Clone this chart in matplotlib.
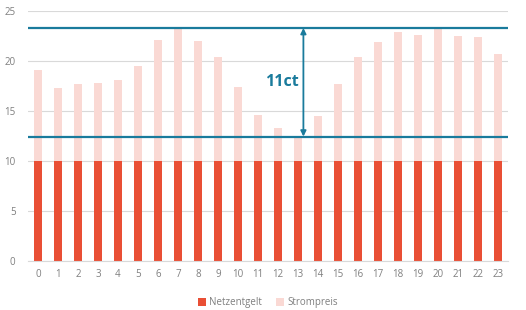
import numpy as np
import matplotlib.pyplot as plt

plt.rcParams['font.family'] = ['Open Sans', 'DejaVu Sans']

# hours of the day
hours = list(range(24))
# grid fee, ct/kWh
netzentgelt = [10] * 24
# total price, ct/kWh
total = [19.1, 17.3, 17.7, 17.8, 18.1, 19.5, 22.1, 23.3, 22.0, 20.4, 17.4, 14.6,
         13.3, 12.4, 14.5, 17.7, 20.4, 21.9, 22.9, 22.6, 23.2, 22.5, 22.4, 20.7]
strompreis = [t - n for t, n in zip(total, netzentgelt)]
# min / max reference lines
line_max = 23.27
line_min = 12.43
span_label = "11ct"

teal = '#1a7b9c'
grey_text = '#7f7f7f'

fig = plt.figure(figsize=(5.26, 3.10), dpi=100)
ax = fig.add_axes([0.0532, 0.158, 0.9126, 0.8075])

ax.bar(hours, netzentgelt, width=0.43, color='#e94f35', label='Netzentgelt', zorder=2)
ax.bar(hours, strompreis, width=0.43, bottom=netzentgelt, color='#fad9d4',
       label='Strompreis', zorder=2)

ax.axhline(line_max, color=teal, lw=1.6, zorder=3)
ax.axhline(line_min, color=teal, lw=1.6, zorder=3)
ax.annotate('', xy=(13.27, line_max), xytext=(13.27, line_min),
            arrowprops=dict(arrowstyle='<|-|>', color=teal, lw=1.3,
                            mutation_scale=8, shrinkA=0, shrinkB=0), zorder=4)
ax.text(13.05, (line_max + line_min) / 2, span_label, color=teal, fontsize=11.5,
        fontweight='bold', ha='right', va='center')

ax.set_xlim(-0.5, 23.5)
ax.set_ylim(0, 25)
ax.set_xticks(hours)
ax.set_yticks([0, 5, 10, 15, 20, 25])
ax.grid(axis='y', color='#d9d9d9', lw=0.8, zorder=0)
ax.set_axisbelow(True)
for s in ['top', 'right', 'left']:
    ax.spines[s].set_visible(False)
ax.spines['bottom'].set_color('#d9d9d9')
ax.tick_params(length=0, labelsize=7, colors=grey_text, pad=6)
ax.tick_params(axis='y', pad=9)

ax.legend(loc='upper center', bbox_to_anchor=(0.5, -0.11), ncol=2, frameon=False,
          fontsize=7, handlelength=0.8, handleheight=0.8, handletextpad=0.3,
          columnspacing=1.5, labelcolor=grey_text)

fig.savefig('out.png', dpi=100)
